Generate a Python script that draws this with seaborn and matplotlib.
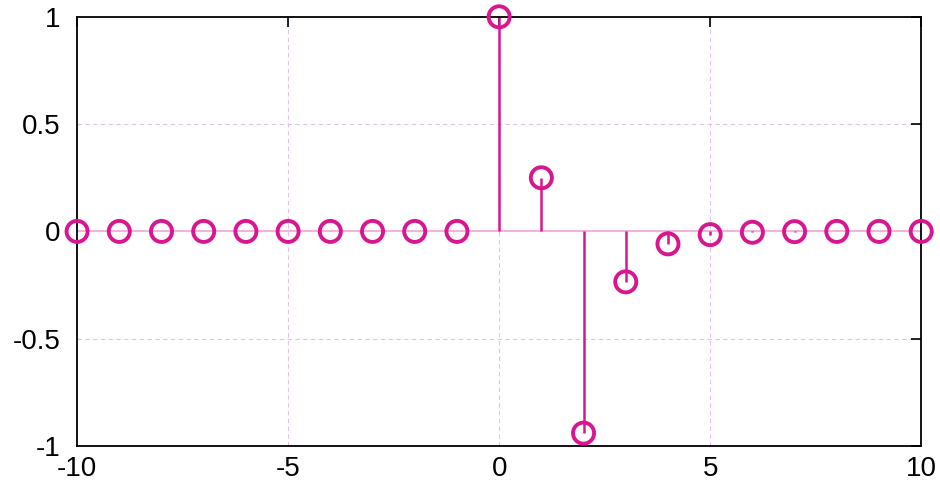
import numpy as np
import pandas as pd
import matplotlib
matplotlib.use("Agg")
import matplotlib.pyplot as plt
import seaborn as sns

# sample index and sequence values
n = list(range(-10, 11))
h = [0, 0, 0, 0, 0, 0, 0, 0, 0, 0,
     1.0, 0.25, -0.94, -0.235, -0.058, -0.015, -0.004, -0.001, 0, 0, 0]

x_ticks = [-10, -5, 0, 5, 10]
y_ticks = [-1, -0.5, 0, 0.5, 1]
y_labels = ["-1", "-0.5", "0", "0.5", "1"]

sns.set_style("white")
plt.rcParams["font.family"] = ["Liberation Sans", "DejaVu Sans"]

df = pd.DataFrame({"n": n, "h": h})
stem_color = "#d9168f"

fig = plt.figure(figsize=(9.4, 4.95), dpi=100)
ax = fig.add_axes([0.082, 0.099, 0.898, 0.867])

# grid
for xv in [-5, 0, 5]:
    ax.axvline(xv, color="#e2c2ea", lw=0.8, ls=(0, (4, 3)), zorder=0)
for yv in [-0.5, 0.5]:
    ax.axhline(yv, color="#e2c2ea", lw=0.8, ls=(0, (4, 3)), zorder=0)

# stems and baseline
markerline, stemlines, baseline = ax.stem(df["n"], df["h"], basefmt=" ")
markerline.set_visible(False)
stemlines.set_color(stem_color)
stemlines.set_linewidth(1.8)
ax.axhline(0, color="#eeb4e2", lw=1.5, zorder=1)

sns.scatterplot(data=df, x="n", y="h", ax=ax, marker="o", s=230,
                facecolors="none", edgecolor=stem_color, linewidth=2.8,
                zorder=5, clip_on=False, legend=False)

ax.set_xlim(-10, 10)
ax.set_ylim(-1, 1)
ax.set_xticks(x_ticks)
ax.set_xticklabels([str(v) for v in x_ticks])
ax.set_yticks(y_ticks)
ax.set_yticklabels(y_labels)
ax.set_xlabel("")
ax.set_ylabel("")
ax.tick_params(axis="both", direction="in", length=7, width=1.2, color="black",
               labelsize=20, labelcolor="black", top=True, right=True)
ax.tick_params(axis="x", pad=7)
ax.tick_params(axis="y", pad=12)
for sp in ax.spines.values():
    sp.set_visible(True)
    sp.set_color("black")
    sp.set_linewidth(1.3)

fig.savefig("out.png", dpi=100)
